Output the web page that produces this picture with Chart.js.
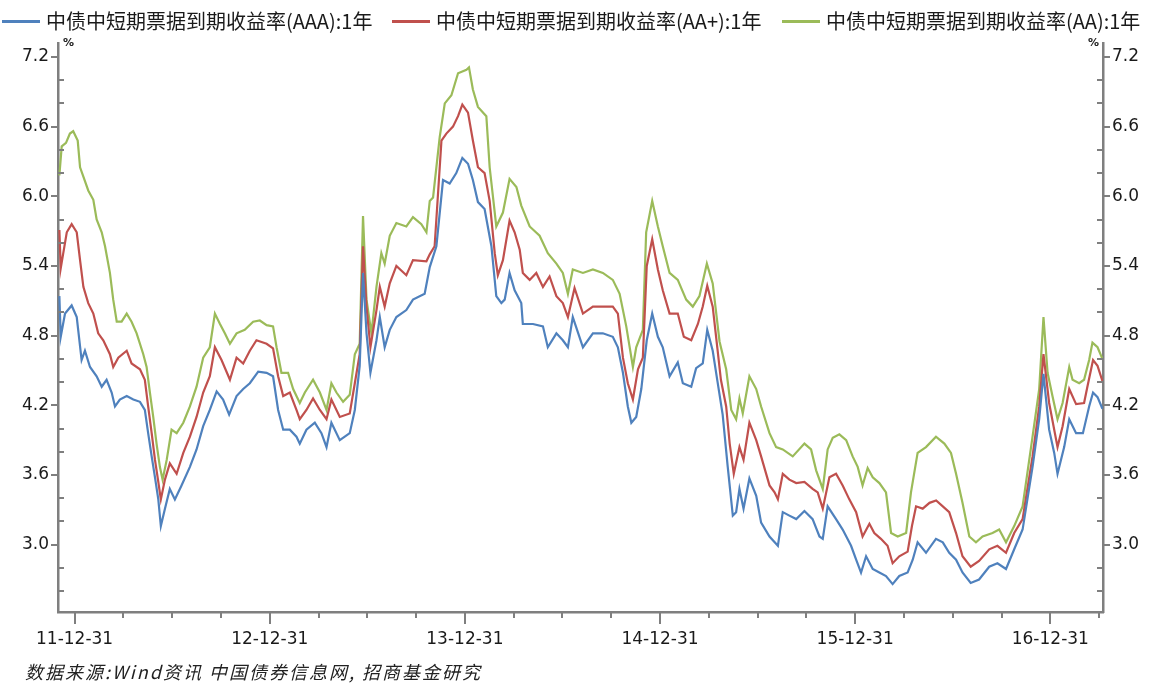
<!DOCTYPE html>
<html>
<head>
<meta charset="utf-8">
<script src="https://cdn.jsdelivr.net/npm/chart.js@4.4.1/dist/chart.umd.min.js"></script>
<style>
  html, body { margin: 0; padding: 0; background: #fff; }
  #wrap { position: relative; width: 1159px; height: 683px; overflow: hidden; }
  #chart { position: absolute; left: 0; top: 0; }
  .lg-line { position: absolute; top: 20px; width: 38px; height: 2.5px; }
  .lg-text { position: absolute; top: 8px; font: 20px "Noto Sans CJK SC", sans-serif; line-height: 26px; color: #1a1a1a; white-space: nowrap; }
  .unit { position: absolute; top: 36px; font: bold 11px "DejaVu Sans", sans-serif; color: #222; }
  #source { position: absolute; left: 25px; top: 660px; font: italic 18px "Noto Sans CJK SC", sans-serif; letter-spacing: 2px; line-height: 22px; color: #222; white-space: nowrap; }
</style>
</head>
<body>
<div id="wrap">
  <canvas id="chart" width="1159" height="683"></canvas>
  <div id="legend"></div>
  <div class="unit" style="left:63px">%</div>
  <div class="unit" style="left:1088px">%</div>
  <div id="source">数据来源:Wind资讯 中国债券信息网, 招商基金研究</div>
</div>
<script>
// ---------- Data (x = years after 2011-12-31) ----------

const seriesNames = [
  '中债中短期票据到期收益率(AAA):1年',
  '中债中短期票据到期收益率(AA+):1年',
  '中债中短期票据到期收益率(AA):1年',
];

const xTickLabels = ['11-12-31', '12-12-31', '13-12-31', '14-12-31', '15-12-31', '16-12-31'];
const yTickValues = [3.0, 3.6, 4.2, 4.8, 5.4, 6.0, 6.6, 7.2];

const tAAA = [
  -0.078, -0.071, -0.049, -0.015, 0.011, 0.036, 0.053, 0.079, 0.113, 0.139,
  0.164, 0.190, 0.207, 0.232, 0.267, 0.301, 0.335, 0.360, 0.377, 0.395,
  0.412, 0.429, 0.442, 0.463, 0.488, 0.514, 0.548, 0.591, 0.625, 0.659,
  0.693, 0.728, 0.761, 0.792, 0.830, 0.864, 0.898, 0.941, 0.984, 1.017,
  1.043, 1.069, 1.103, 1.137, 1.154, 1.188, 1.231, 1.265, 1.291, 1.316,
  1.359, 1.410, 1.436, 1.461, 1.478, 1.496, 1.516, 1.547, 1.564, 1.589,
  1.615, 1.649, 1.700, 1.734, 1.794, 1.820, 1.854, 1.888, 1.922, 1.956,
  1.987, 2.016, 2.041, 2.067, 2.101, 2.136, 2.161, 2.187, 2.204, 2.229,
  2.255, 2.289, 2.297, 2.349, 2.400, 2.425, 2.469, 2.502, 2.528, 2.553,
  2.605, 2.656, 2.707, 2.758, 2.784, 2.810, 2.835, 2.853, 2.878, 2.904,
  2.932, 2.960, 2.989, 3.014, 3.049, 3.091, 3.117, 3.160, 3.185, 3.219,
  3.242, 3.270, 3.294, 3.321, 3.347, 3.373, 3.390, 3.407, 3.428, 3.458,
  3.493, 3.518, 3.561, 3.604, 3.629, 3.663, 3.698, 3.740, 3.782, 3.817,
  3.834, 3.859, 3.902, 3.936, 3.979, 4.005, 4.030, 4.056, 4.090, 4.124,
  4.158, 4.192, 4.226, 4.269, 4.295, 4.320, 4.363, 4.414, 4.449, 4.482,
  4.517, 4.550, 4.592, 4.635, 4.687, 4.729, 4.773, 4.815, 4.858, 4.909,
  4.943, 4.965, 4.994, 5.020, 5.037, 5.071, 5.097, 5.132, 5.167, 5.199,
  5.219, 5.242, 5.267,
];
const vAAA = [
  5.14, 4.79, 4.99, 5.06, 4.96, 4.59, 4.67, 4.53, 4.45, 4.36,
  4.42, 4.31, 4.19, 4.25, 4.28, 4.25, 4.23, 4.16, 3.96, 3.76,
  3.58, 3.39, 3.16, 3.31, 3.48, 3.39, 3.51, 3.67, 3.82, 4.02,
  4.16, 4.32, 4.25, 4.12, 4.28, 4.34, 4.39, 4.49, 4.48, 4.45,
  4.16, 3.99, 3.99, 3.93, 3.87, 3.99, 4.05, 3.96, 3.84, 4.05,
  3.90, 3.96, 4.16, 4.54, 5.34, 4.82, 4.48, 4.76, 4.96, 4.70,
  4.85, 4.96, 5.02, 5.11, 5.16, 5.39, 5.57, 6.14, 6.11, 6.20,
  6.33, 6.28, 6.14, 5.95, 5.89, 5.57, 5.14, 5.08, 5.11, 5.34,
  5.19, 5.08, 4.90, 4.90, 4.88, 4.70, 4.82, 4.76, 4.70, 4.96,
  4.70, 4.82, 4.82, 4.79, 4.70, 4.48, 4.19, 4.05, 4.10, 4.34,
  4.76, 4.99, 4.79, 4.70, 4.45, 4.57, 4.39, 4.36, 4.52, 4.56,
  4.85, 4.67, 4.41, 4.12, 3.67, 3.25, 3.28, 3.48, 3.31, 3.57,
  3.42, 3.19, 3.07, 2.99, 3.28, 3.25, 3.22, 3.29, 3.22, 3.07,
  3.05, 3.33, 3.22, 3.13, 2.99, 2.87, 2.76, 2.90, 2.79, 2.76,
  2.73, 2.66, 2.73, 2.76, 2.87, 3.02, 2.93, 3.05, 3.02, 2.93,
  2.87, 2.76, 2.67, 2.70, 2.81, 2.84, 2.79, 2.96, 3.13, 3.67,
  4.08, 4.47, 3.99, 3.79, 3.61, 3.84, 4.08, 3.96, 3.96, 4.19,
  4.31, 4.27, 4.17,
];

const tAAp = [
  -0.078, -0.071, -0.058, -0.040, -0.015, 0.011, 0.028, 0.045, 0.070, 0.096,
  0.121, 0.147, 0.181, 0.198, 0.224, 0.267, 0.292, 0.335, 0.360, 0.377,
  0.395, 0.412, 0.429, 0.442, 0.463, 0.488, 0.523, 0.557, 0.591, 0.625,
  0.659, 0.693, 0.719, 0.753, 0.796, 0.830, 0.864, 0.898, 0.932, 0.984,
  1.017, 1.043, 1.069, 1.103, 1.137, 1.154, 1.188, 1.222, 1.257, 1.291,
  1.316, 1.359, 1.410, 1.436, 1.461, 1.478, 1.496, 1.516, 1.547, 1.564,
  1.589, 1.615, 1.649, 1.700, 1.734, 1.803, 1.820, 1.845, 1.880, 1.905,
  1.939, 1.965, 1.987, 2.016, 2.041, 2.067, 2.101, 2.127, 2.153, 2.169,
  2.195, 2.229, 2.255, 2.281, 2.297, 2.332, 2.366, 2.400, 2.434, 2.469,
  2.502, 2.528, 2.562, 2.605, 2.656, 2.707, 2.758, 2.784, 2.810, 2.835,
  2.861, 2.887, 2.912, 2.932, 2.960, 2.989, 3.014, 3.049, 3.091, 3.122,
  3.160, 3.194, 3.219, 3.242, 3.270, 3.294, 3.312, 3.339, 3.357, 3.378,
  3.407, 3.428, 3.458, 3.493, 3.518, 3.561, 3.587, 3.604, 3.629, 3.663,
  3.698, 3.740, 3.782, 3.808, 3.834, 3.868, 3.902, 3.936, 3.970, 4.005,
  4.038, 4.073, 4.098, 4.132, 4.166, 4.192, 4.226, 4.269, 4.291, 4.312,
  4.346, 4.381, 4.415, 4.449, 4.482, 4.517, 4.550, 4.592, 4.635, 4.687,
  4.729, 4.773, 4.815, 4.858, 4.909, 4.943, 4.965, 4.994, 5.037, 5.063,
  5.097, 5.132, 5.173, 5.190, 5.219, 5.242, 5.267,
];
const vAAp = [
  5.71, 5.38, 5.51, 5.69, 5.76, 5.69, 5.45, 5.22, 5.08, 4.99,
  4.82, 4.76, 4.64, 4.53, 4.61, 4.67, 4.56, 4.51, 4.42, 4.19,
  3.96, 3.73, 3.54, 3.39, 3.56, 3.70, 3.61, 3.79, 3.93, 4.10,
  4.31, 4.45, 4.70, 4.59, 4.42, 4.61, 4.56, 4.67, 4.76, 4.73,
  4.69, 4.45, 4.28, 4.31, 4.16, 4.08, 4.16, 4.26, 4.16, 4.08,
  4.25, 4.10, 4.13, 4.39, 4.64, 5.57, 5.05, 4.70, 5.02, 5.22,
  5.05, 5.25, 5.40, 5.32, 5.45, 5.44, 5.50, 5.57, 6.48, 6.54,
  6.60, 6.69, 6.79, 6.72, 6.48, 6.25, 6.20, 5.96, 5.51, 5.32,
  5.45, 5.79, 5.69, 5.54, 5.34, 5.28, 5.34, 5.22, 5.31, 5.14,
  5.08, 4.96, 5.21, 4.99, 5.05, 5.05, 5.05, 4.99, 4.61, 4.39,
  4.25, 4.51, 4.61, 5.40, 5.63, 5.37, 5.19, 4.99, 4.99, 4.79,
  4.76, 4.90, 5.05, 5.23, 5.05, 4.69, 4.42, 4.19, 3.87, 3.61,
  3.84, 3.73, 4.05, 3.90, 3.76, 3.51, 3.45, 3.39, 3.61, 3.56,
  3.53, 3.54, 3.48, 3.45, 3.31, 3.58, 3.61, 3.51, 3.39, 3.28,
  3.07, 3.18, 3.10, 3.05, 2.99, 2.84, 2.90, 2.94, 3.16, 3.33,
  3.31, 3.36, 3.38, 3.33, 3.28, 3.10, 2.90, 2.81, 2.86, 2.96,
  2.99, 2.93, 3.10, 3.22, 3.76, 4.19, 4.64, 4.22, 3.84, 4.02,
  4.34, 4.21, 4.22, 4.36, 4.59, 4.54, 4.41,
];

const tAA = [
  -0.078, -0.066, -0.044, -0.024, -0.007, 0.016, 0.028, 0.045, 0.070, 0.096,
  0.113, 0.139, 0.156, 0.181, 0.198, 0.216, 0.241, 0.267, 0.292, 0.318,
  0.352, 0.369, 0.386, 0.403, 0.420, 0.437, 0.451, 0.472, 0.497, 0.523,
  0.557, 0.591, 0.625, 0.659, 0.693, 0.719, 0.745, 0.770, 0.796, 0.830,
  0.872, 0.915, 0.949, 0.984, 1.017, 1.035, 1.060, 1.094, 1.120, 1.154,
  1.180, 1.222, 1.257, 1.291, 1.316, 1.342, 1.376, 1.410, 1.436, 1.461,
  1.478, 1.496, 1.521, 1.547, 1.572, 1.589, 1.615, 1.649, 1.700, 1.734,
  1.777, 1.803, 1.820, 1.837, 1.871, 1.897, 1.931, 1.965, 2.008, 2.021,
  2.041, 2.067, 2.110, 2.127, 2.161, 2.195, 2.229, 2.264, 2.289, 2.332,
  2.383, 2.425, 2.469, 2.502, 2.528, 2.553, 2.605, 2.656, 2.707, 2.758,
  2.793, 2.827, 2.861, 2.878, 2.912, 2.929, 2.960, 2.989, 3.014, 3.049,
  3.091, 3.134, 3.168, 3.202, 3.240, 3.270, 3.305, 3.339, 3.365, 3.390,
  3.407, 3.424, 3.458, 3.493, 3.518, 3.561, 3.595, 3.629, 3.680, 3.740,
  3.774, 3.800, 3.834, 3.859, 3.885, 3.919, 3.954, 3.987, 4.013, 4.038,
  4.064, 4.090, 4.124, 4.158, 4.184, 4.218, 4.261, 4.286, 4.320, 4.363,
  4.414, 4.457, 4.491, 4.517, 4.550, 4.585, 4.619, 4.653, 4.704, 4.738,
  4.773, 4.815, 4.858, 4.909, 4.943, 4.965, 4.986, 5.011, 5.037, 5.063,
  5.097, 5.114, 5.148, 5.173, 5.199, 5.216, 5.242, 5.267,
];
const vAA = [
  6.18, 6.43, 6.46, 6.54, 6.56, 6.48, 6.25, 6.17, 6.05, 5.97,
  5.80, 5.69, 5.57, 5.34, 5.11, 4.92, 4.92, 4.99, 4.92, 4.82,
  4.64, 4.53, 4.31, 4.10, 3.87, 3.67, 3.56, 3.73, 3.99, 3.96,
  4.05, 4.19, 4.36, 4.61, 4.70, 4.99, 4.90, 4.82, 4.73, 4.82,
  4.85, 4.92, 4.93, 4.89, 4.88, 4.70, 4.48, 4.48, 4.34, 4.22,
  4.31, 4.42, 4.31, 4.16, 4.39, 4.31, 4.23, 4.29, 4.64, 4.73,
  5.83, 5.11, 4.82, 5.22, 5.51, 5.42, 5.66, 5.77, 5.74, 5.82,
  5.76, 5.69, 5.96, 5.99, 6.51, 6.80, 6.87, 7.06, 7.09, 7.11,
  6.92, 6.77, 6.69, 6.25, 5.74, 5.86, 6.15, 6.08, 5.92, 5.74,
  5.66, 5.51, 5.42, 5.34, 5.16, 5.37, 5.34, 5.37, 5.34, 5.28,
  5.16, 4.88, 4.53, 4.70, 4.85, 5.69, 5.96, 5.74, 5.57, 5.34,
  5.28, 5.11, 5.05, 5.14, 5.42, 5.25, 4.75, 4.51, 4.16, 4.08,
  4.26, 4.13, 4.45, 4.34, 4.19, 3.96, 3.84, 3.82, 3.76, 3.87,
  3.82, 3.64, 3.48, 3.82, 3.92, 3.95, 3.90, 3.76, 3.67, 3.51,
  3.66, 3.58, 3.53, 3.45, 3.10, 3.07, 3.10, 3.45, 3.79, 3.84,
  3.93, 3.87, 3.79, 3.61, 3.36, 3.07, 3.02, 3.07, 3.10, 3.13,
  3.02, 3.16, 3.33, 3.93, 4.34, 4.96, 4.48, 4.28, 4.08, 4.22,
  4.53, 4.42, 4.39, 4.42, 4.59, 4.74, 4.70, 4.60,
];

const COLORS = ['#4f81bd', '#c0504d', '#9bbb59'];
const AXIS_COLOR = '#7f7f7f';

// ---------- Legend (HTML) ----------

const legendLeft = [2, 392, 782];
document.getElementById('legend').innerHTML = seriesNames.map((name, i) => `
  <span class="lg-line" style="left:${legendLeft[i]}px;background:${COLORS[i]}"></span>
  <span class="lg-text" style="left:${legendLeft[i] + 44}px">${name}</span>
`).join('');

// ---------- Chart ----------

const toPoints = (ts, vs) => ts.map((t, i) => ({ x: t, y: vs[i] }));

// quarterly tick positions on the x axis, year ends get labels
const xTicks = [];
for (let q = 0; q <= 21; q++) xTicks.push(q / 4);

const tickMarks = {
  id: 'tickMarks',
  afterDraw(chart) {
    const { ctx, chartArea: a, scales } = chart;
    ctx.save();
    ctx.strokeStyle = AXIS_COLOR;
    ctx.lineWidth = 2;
    ctx.beginPath();
    xTicks.forEach(v => {
      const px = Math.round(scales.x.getPixelForValue(v));
      const len = Number.isInteger(v) ? 12 : 6;
      ctx.moveTo(px, a.bottom);
      ctx.lineTo(px, a.bottom + len);
    });
    for (let k = 1; k <= 24; k++) {
      const v = 2.4 + k * 0.2;
      const py = Math.round(scales.y.getPixelForValue(v));
      if (k % 3 === 0) {
        ctx.moveTo(a.left - 7, py); ctx.lineTo(a.left, py);
        ctx.moveTo(a.right, py); ctx.lineTo(a.right + 7, py);
      } else {
        ctx.moveTo(a.left, py); ctx.lineTo(a.left + 6, py);
        ctx.moveTo(a.right - 6, py); ctx.lineTo(a.right, py);
      }
    }
    ctx.stroke();
    ctx.restore();
  },
};

const tickFont = { family: 'DejaVu Sans', size: 17 };

const yAxis = (position, width) => ({
  type: 'linear',
  position,
  display: true,
  min: 2.42,
  max: 7.32,
  afterBuildTicks: s => { s.ticks = yTickValues.map(v => ({ value: v })); },
  afterFit: s => { s.width = width; },
  ticks: {
    font: tickFont,
    color: '#1a1a1a',
    padding: 9,
    callback: v => v.toFixed(1),
  },
  grid: { drawOnChartArea: false, drawTicks: false },
  border: { display: true, color: AXIS_COLOR, width: 2.5 },
});

new Chart(document.getElementById('chart'), {
  type: 'line',
  data: {
    datasets: [
      { label: seriesNames[0], data: toPoints(tAAA, vAAA), borderColor: COLORS[0] },
      { label: seriesNames[1], data: toPoints(tAAp, vAAp), borderColor: COLORS[1] },
      { label: seriesNames[2], data: toPoints(tAA, vAA), borderColor: COLORS[2] },
    ].map(d => ({ ...d, borderWidth: 2.2, pointRadius: 0, tension: 0, fill: false, yAxisID: 'y' })),
  },
  options: {
    responsive: false,
    animation: false,
    devicePixelRatio: 1,
    layout: { padding: { top: 43, left: 0, right: 0, bottom: 0 } },
    plugins: { legend: { display: false }, tooltip: { enabled: false } },
    scales: {
      x: {
        type: 'linear',
        min: -0.085,
        max: 5.27,
        afterBuildTicks: s => { s.ticks = xTicks.map(v => ({ value: v })); },
        afterFit: s => { s.height = 683 - 612; },
        ticks: {
          font: tickFont,
          color: '#1a1a1a',
          padding: 17,
          autoSkip: false,
          maxRotation: 0,
          minRotation: 0,
          callback: v => (Number.isInteger(v) ? xTickLabels[v] : ''),
        },
        grid: { drawOnChartArea: false, drawTicks: false },
        border: { display: true, color: AXIS_COLOR, width: 2.5 },
      },
      y: yAxis('left', 58),
      y1: yAxis('right', 56),
    },
  },
  plugins: [tickMarks],
});
</script>
</body>
</html>
